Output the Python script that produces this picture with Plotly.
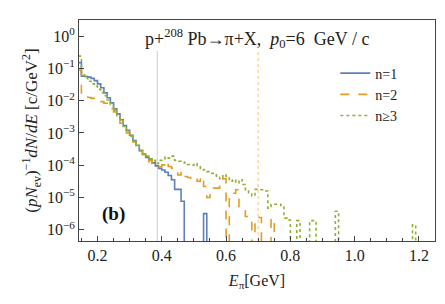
import plotly.graph_objects as go

# ---- data (log10 of dN/dE per 0.01 GeV bin, starting at 0.14 GeV; None = empty bin)
bin_start = 0.14
bin_width = 0.01
n_bins = 106

n1_log = [-0.82, -1.24, -1.25, -1.27, -1.31, -1.38, -1.48, -1.60, -1.76, -1.91,
          -2.07, -2.25, -2.41, -2.59, -2.77, -2.92, -3.07, -3.24, -3.38, -3.55,
          -3.67, -3.76, -3.83, -3.93, -4.02, -4.10, -4.15, -4.22, -4.32, -4.45,
          -4.75, -4.75, -5.12, None, None, None, None, None, None, -5.50]

n2_log = [-1.05, -1.80, -1.86, -1.90, -1.93, -1.97, -2.00, -2.03, -2.08, -2.15,
          -2.25, -2.35, -2.55, -2.70, -2.85, -3.00, -3.15, -3.28, -3.40, -3.55,
          -3.65, -3.90, -3.85, -3.95, -4.05, -4.05, -3.99, -3.88, -4.04, -4.09,
          -4.19, -4.30, -4.19, -4.35, -4.38, -4.45, -4.40, -4.50, -4.35, -4.66,
          -5.00, -4.76, -4.71, -4.71, -4.56, -4.42, None, -4.92, -4.87, -4.76,
          -5.28, -5.28, -5.59, -5.59, None, -5.62, -5.62, None, None, None,
          -5.64]

n3_log = [-0.62, -1.20, -1.30, -1.40, -1.48, -1.55, -1.65, -1.75, -1.85, -1.98,
          -2.12, -2.30, -2.47, -2.62, -2.80, -2.95, -3.10, -3.25, -3.40, -3.55,
          -3.65, -3.72, -3.80, -3.85, -3.95, -3.85, -3.80, -3.75, -3.78, -3.72,
          -3.85, -3.88, -3.90, -3.93, -3.98, -4.00, -3.95, -4.05, -4.10, -4.15,
          -4.20, -4.25, -4.30, -4.38, -4.42, -4.30, -4.35, -4.50, -4.45, -4.55,
          -4.45, -4.60, -4.76, -4.85, -4.95, -4.75, -4.76, -4.76, -4.80, -5.33,
          -5.21, -5.21, -5.21, -5.25, -5.64, -5.70, None, None, -5.72, None,
          None, None, -5.72, -5.72, None, None, None, None, None, None,
          -5.43, None, None, None, None, None, None, None, None, None,
          None, None, None, None, None, None, None, None, None, None,
          None, None, None, None, -5.85]

series_names = ["n=1", "n=2", "n≥3"]
series_colors = ["#5E81B5", "#E19C24", "#8FB032"]
series_dash = ["solid", "dash", "dot"]

threshold_gray = 0.386
threshold_orange = 0.70

y_tick_exp = [0, -1, -2, -3, -4, -5, -6]
x_tick_vals = [0.2, 0.4, 0.6, 0.8, 1.0, 1.2]

FLOOR = 1e-12


def step_xy(logvals):
    vals = list(logvals) + [None] * (n_bins - len(logvals))
    xs, ys = [], []
    for i, v in enumerate(vals):
        xs.append(round(bin_start + i * bin_width, 4))
        ys.append(FLOOR if v is None else 10 ** v)
    xs.append(round(bin_start + n_bins * bin_width, 4))
    ys.append(ys[-1])
    return xs, ys


fig = go.Figure()
for logs, name, col, dash in zip([n1_log, n2_log, n3_log], series_names, series_colors, series_dash):
    xs, ys = step_xy(logs)
    fig.add_trace(go.Scatter(x=xs, y=ys, mode="lines", name=name,
                             line=dict(color=col, width=1.6, dash=dash, shape="hv")))

fig.add_shape(type="line", xref="x", yref="y domain", x0=threshold_gray, x1=threshold_gray,
              y0=0, y1=0.86, line=dict(color="#CBD5E4", width=1.2), layer="below")
fig.add_shape(type="line", xref="x", yref="y domain", x0=threshold_orange, x1=threshold_orange,
              y0=0, y1=0.86, line=dict(color="#F7D7A6", width=1.5, dash="3px,3px"), layer="below")

serif = "Liberation Serif"
fig.add_annotation(x=0.5, y=0.915, xref="paper", yref="paper", showarrow=False,
                   xanchor="center", yanchor="middle",
                   text="p+<sup>208</sup> Pb→π+X,  <i>p</i><sub>0</sub>=6  GeV / c",
                   font=dict(family=serif, size=18, color="#222"))
fig.add_annotation(x=0.098, y=0.12, xref="paper", yref="paper", showarrow=False,
                   xanchor="center", yanchor="middle",
                   text="<b>(b)</b>", font=dict(family=serif, size=19, color="#111"))

fig.update_layout(
    width=445, height=304,
    margin=dict(l=71, r=18, t=12, b=71),
    paper_bgcolor="white", plot_bgcolor="white",
    font=dict(family=serif, size=15, color="#222"),
    showlegend=True,
    legend=dict(x=0.72, y=0.83, xanchor="left", yanchor="top", bgcolor="rgba(0,0,0,0)",
                font=dict(family=serif, size=14, color="#222"), tracegroupgap=0),
)
fig.update_xaxes(range=[0.1425, 1.25], showgrid=False, zeroline=False,
                 showline=True, linecolor="#444", linewidth=1, mirror=True,
                 ticks="inside", ticklen=5, tickcolor="#444",
                 tickvals=x_tick_vals, ticktext=[f"{v:.1f}" for v in x_tick_vals],
                 minor=dict(ticks="inside", ticklen=3, dtick=0.05, tickcolor="#444"),
                 tickfont=dict(size=16),
                 title=dict(text="<i>E</i><sub>π</sub>[GeV]", font=dict(size=16), standoff=11))
fig.update_yaxes(type="log", range=[-6.35, 0.5], showgrid=False, zeroline=False,
                 showline=True, linecolor="#444", linewidth=1, mirror=True,
                 ticks="inside", ticklen=5, tickcolor="#444",
                 tickvals=[10 ** e for e in y_tick_exp],
                 ticktext=[f"10<sup>{'−' if e < 0 else ''}{abs(e)}</sup>" for e in y_tick_exp],
                 tickfont=dict(size=16),
                 title=dict(text="(<i>pN</i><sub>ev</sub>)<sup>−1</sup><i>dN</i>/<i>dE</i> [c/GeV<sup>2</sup>]",
                            font=dict(size=17), standoff=4))

fig.write_html("out.html")
